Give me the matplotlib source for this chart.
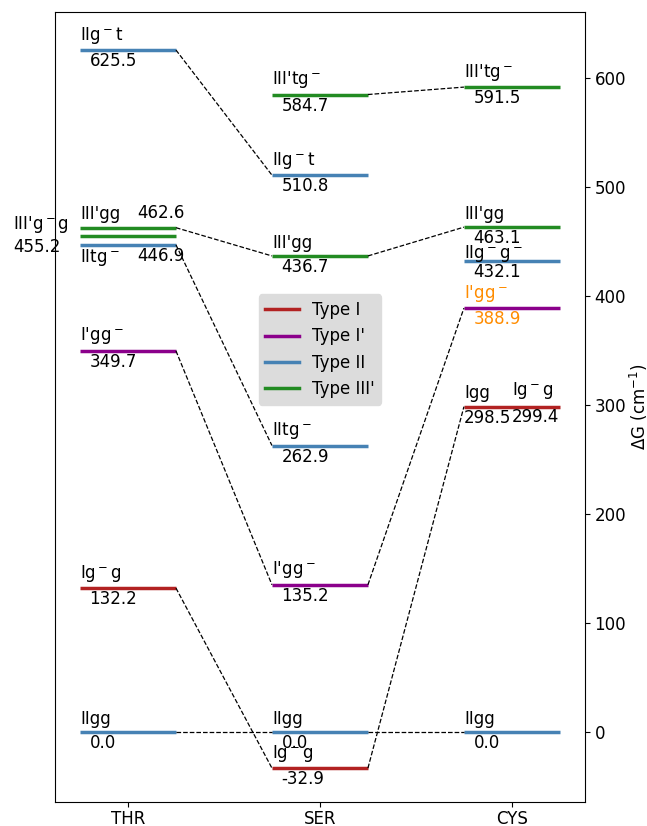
import numpy as np
import matplotlib.pyplot as plt

# conformer energies (cm^-1) per molecule
molecules = ['THR', 'SER', 'CYS']

thr_names = ['IIg$^-$t', "III'gg", "III'g$^-$g", 'IItg$^-$', "I'gg$^-$", 'Ig$^-$g', 'IIgg']
thr_vals = [625.5, 462.6, 455.2, 446.9, 349.7, 132.2, 0.0]
thr_types = ['II', "III'", "III'", 'II', "I'", 'I', 'II']

ser_names = ["III'tg$^-$", 'IIg$^-$t', "III'gg", 'IItg$^-$', "I'gg$^-$", 'IIgg', 'Ig$^-$g']
ser_vals = [584.7, 510.8, 436.7, 262.9, 135.2, 0.0, -32.9]
ser_types = ["III'", 'II', "III'", 'II', "I'", 'II', 'I']

cys_names = ["III'tg$^-$", "III'gg", 'IIg$^-$g$^-$', "I'gg$^-$", 'Igg', 'Ig$^-$g', 'IIgg']
cys_vals = [591.5, 463.1, 432.1, 388.9, 298.5, 299.4, 0.0]
cys_types = ["III'", "III'", 'II', "I'", 'I', 'I', 'II']

# correlation lines: (col_a, idx_a, col_b, idx_b)
links = [(0, 0, 1, 1), (1, 0, 2, 0), (0, 1, 1, 2), (1, 2, 2, 1),
         (0, 3, 1, 3), (0, 4, 1, 4), (1, 4, 2, 3), (0, 5, 1, 6),
         (1, 6, 2, 4), (0, 6, 1, 5), (1, 5, 2, 6)]

colors = {'I': 'firebrick', "I'": 'darkmagenta', 'II': 'steelblue', "III'": 'forestgreen'}

cols = [(thr_names, thr_vals, thr_types),
        (ser_names, ser_vals, ser_types),
        (cys_names, cys_vals, cys_types)]

hw = 0.25
fs = 12

fig = plt.figure(figsize=(6.47, 8.26), dpi=100)
ax = fig.add_axes([0.085, 0.029, 0.819, 0.956])

# levels
for i, (names, vals, types) in enumerate(cols):
    for v, t in zip(vals, types):
        if i == 2 and v == 299.4:
            continue
        ax.plot([i - hw, i + hw], [v, v], color=colors[t], lw=2.5, solid_capstyle='butt')

# dashed connections
for a, ia, b, ib in links:
    ax.plot([a + hw, b - hw], [cols[a][1][ia], cols[b][1][ib]],
            'k--', lw=0.9)

# labels: default name above, value below
special = {
    (0, 1): dict(vx=0.05, vy=5, vva='bottom'),
    (0, 2): dict(nx=-0.60, ny=1, vx=-0.60, vy=-2),
    (0, 3): dict(ny=-2, nva='top', vx=0.05),
    (2, 2): dict(ny=-3),
    (2, 4): dict(vx=-0.25),
    (2, 5): dict(nx=0.0, vx=0.0),
}
for i, (names, vals, types) in enumerate(cols):
    for j, (n, v) in enumerate(zip(names, vals)):
        s = special.get((i, j), {})
        c = 'darkorange' if (i == 2 and j == 3) else 'black'
        nx = i + s.get('nx', -hw)
        vx = i + s.get('vx', -hw + 0.05)
        ax.text(nx, v + s.get('ny', 4), n, fontsize=fs, color=c,
                ha='left', va=s.get('nva', 'bottom'), clip_on=False)
        ax.text(vx, v + s.get('vy', -2), f'{v:.1f}', fontsize=fs, color=c,
                ha='left', va=s.get('vva', 'top'), clip_on=False)

# legend
for t, lab in zip(['I', "I'", 'II', "III'"], ['Type I', "Type I'", 'Type II', "Type III'"]):
    ax.plot([], [], color=colors[t], lw=2.5, label=lab)
leg = ax.legend(loc='center', bbox_to_anchor=(0.5, 0.573), fontsize=12,
                facecolor='#dcdcdc', edgecolor='#dcdcdc', framealpha=1)

ax.set_xlim(-0.38, 2.38)
ax.set_ylim(-64, 660)
ax.set_xticks(range(3))
ax.set_xticklabels(molecules, fontsize=12)
ax.tick_params(axis='x', pad=2.5)
ax.yaxis.tick_right()
ax.yaxis.set_label_position('right')
ax.set_yticks(np.arange(0, 601, 100))
ax.tick_params(axis='y', labelsize=12)
ax.set_ylabel(r'$\Delta$G (cm$^{-1}$)', fontsize=12, labelpad=1)

fig.savefig('out.png', dpi=100)
